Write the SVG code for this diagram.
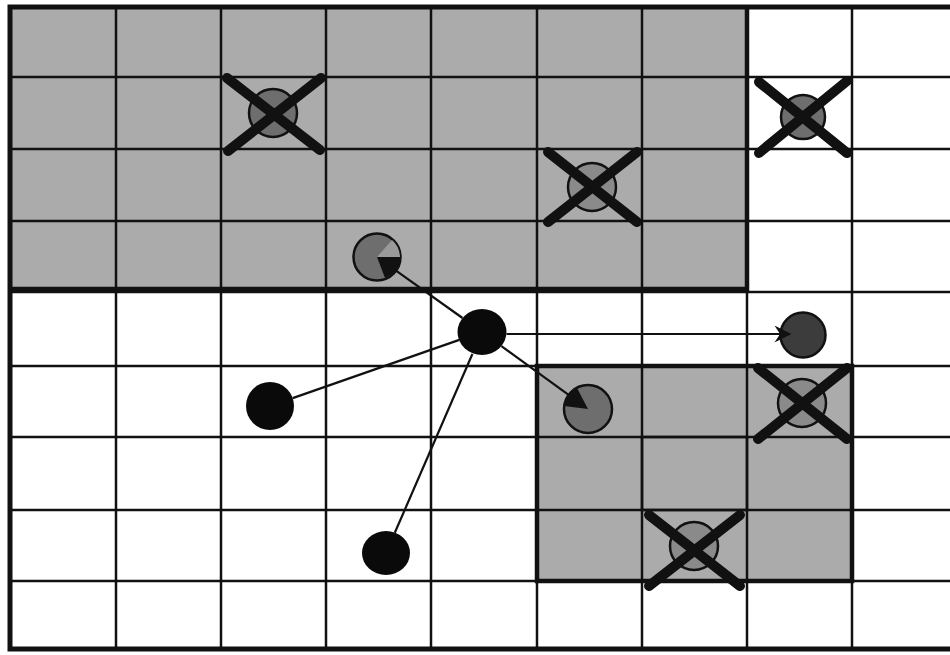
<svg xmlns="http://www.w3.org/2000/svg" width="950" height="655" viewBox="0 0 950 655">
<defs>
<style>
.shade{fill:#ababab;stroke:none}
.grid{stroke:#111;stroke-width:2.5;fill:none}
.rb{stroke:#111;stroke-width:4.5;fill:none}
.edge{stroke:#111;stroke-width:2.2;fill:none}
.blk{fill:#0a0a0a}
.gry{fill:#6e6e6e;stroke:#111;stroke-width:2.5}
.gry2{fill:#8a8a8a;stroke:#111;stroke-width:2.5}
.wedge{fill:#9a9a9a}
.x{stroke:#111;stroke-width:10;stroke-linecap:round}
</style>
<marker id="arr" viewBox="0 0 12 12" refX="11" refY="6" markerWidth="17" markerHeight="17" markerUnits="userSpaceOnUse" orient="auto">
<path d="M0,0 L12,6 L0,12 L4,6 Z" fill="#111"/>
</marker>
</defs>
<rect width="950" height="655" fill="#fff"/>
<g id="shaded-regions">
<rect class="shade" x="10" y="6" width="737" height="284"/>
<rect class="shade" x="537" y="366" width="315" height="215"/>
</g>
<g id="grid">
<path class="grid" d="M116 6V649M221 6V649M326 6V649M431 6V649M537 6V649M642 6V649M747 6V649M852 6V649"/>
<path class="grid" d="M10 77H950M10 149H950M10 221H950M10 292H950M10 366H950M10 437H950M10 510H950M10 581H950"/>
<path class="rb" d="M10 289H747V6"/>
<rect class="rb" x="537" y="366" width="315" height="215"/>
<rect class="grid" x="642" y="437" width="105" height="73" stroke-width="3.5"/>
<path stroke="#111" stroke-width="5" fill="none" d="M950 7H10V649H950"/>
</g>
<g id="node-center"><ellipse class="blk" cx="482" cy="332" rx="24.5" ry="23"/></g>
<g id="node-gray-a"><circle class="gry" cx="377" cy="257" r="23.5"/><path class="wedge" d="M377 257L400 257A23 23 0 0 0 392 240Z"/><path d="M377 257L400 257A23 23 0 0 1 385 278Z" fill="#111"/></g>
<g id="node-gray-b"><circle class="gry" cx="588" cy="409" r="24"/><path d="M588 409L564 406A24 24 0 0 1 577 388Z" fill="#111"/></g>
<g id="node-gray-c"><circle cx="803" cy="335" r="22.5" style="fill:#3c3c3c;stroke:#111;stroke-width:2.5"/></g>
<g id="node-black-a"><circle class="blk" cx="270" cy="406" r="24"/></g>
<g id="node-black-b"><ellipse class="blk" cx="386" cy="553" rx="24" ry="22"/></g>
<g id="node-x1"><circle class="gry" cx="273" cy="113" r="24"/><path class="x" d="M227 78L320 150M321 78L228 151"/></g>
<g id="node-x2"><circle class="gry" cx="803" cy="117" r="22"/><path class="x" d="M759 82L847 153M847 81L759 153"/></g>
<g id="node-x3"><circle class="gry2" cx="592" cy="187" r="24"/><path class="x" d="M548 152L637 222M637 152L548 222"/></g>
<g id="node-x4"><circle class="gry2" cx="802" cy="403" r="24"/><path class="x" d="M758 368L847 439M847 368L758 439"/></g>
<g id="node-x5"><circle class="gry2" cx="694" cy="546" r="24"/><path class="x" d="M649 515L740 586M740 515L649 586"/></g>
<g id="connectors">
<line class="edge" x1="462.5" y1="318" x2="396" y2="270.7"/>
<line class="edge" x1="459.3" y1="339.9" x2="292.7" y2="398.1"/>
<line class="edge" x1="472.4" y1="354" x2="394.8" y2="532.8"/>
<line class="edge" x1="501.4" y1="346.1" x2="568.6" y2="394.9"/>
<line class="edge" x1="506.5" y1="334" x2="790" y2="334" marker-end="url(#arr)"/>
</g>
</svg>
